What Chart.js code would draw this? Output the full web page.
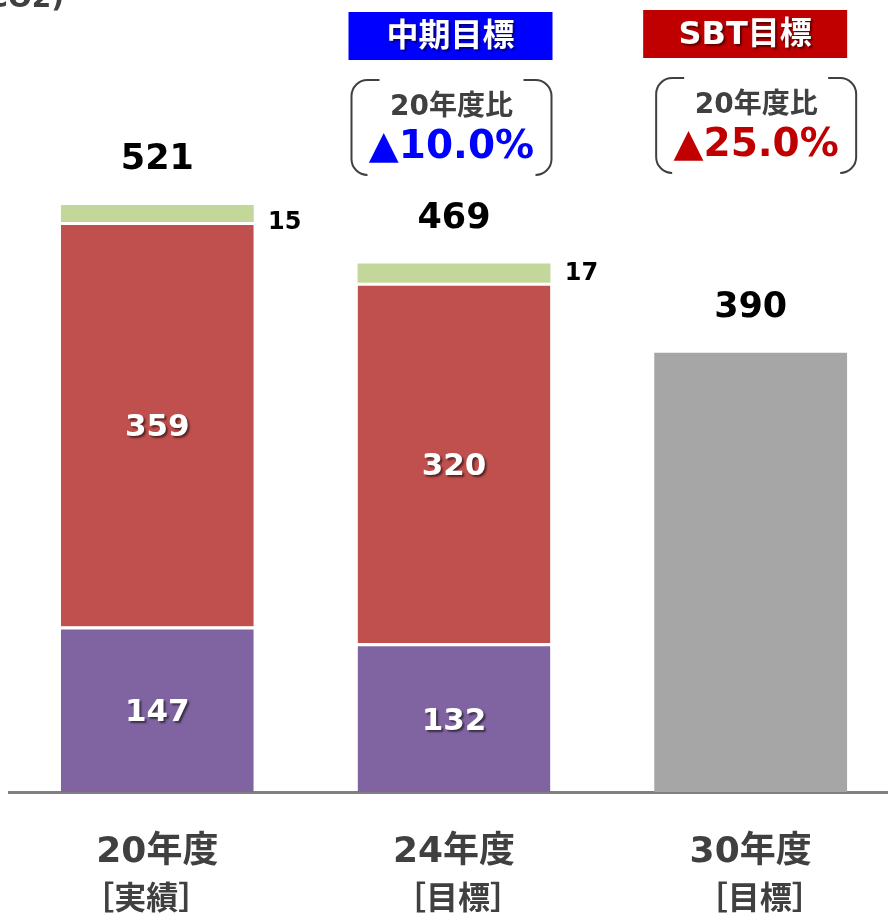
<!DOCTYPE html>
<html><head><meta charset="utf-8">
<script src="https://cdn.jsdelivr.net/npm/chart.js@4/dist/chart.umd.min.js"></script>
<style>html,body{margin:0;padding:0;overflow:hidden;background:#fff}canvas{display:block}</style>
</head><body>
<canvas id="c" width="900" height="913"></canvas>
<script>
const categories = ['20年度', '24年度', '30年度'];
const subLabels = ['［実績］', '［目標］', '［目標］'];
const purpleVals = [147, 132, null];
const redVals = [359, 320, null];
const greenVals = [15, 17, null];
const grayVals = [null, null, 390];
const targetTitles = [null, '中期目標', 'SBT目標'];
const targetColors = [null, '#0000FF', '#C00000'];
const targetRates = [null, '▲10.0%', '▲25.0%'];
const rateCaption = '20年度比';
const unitText = '(t-CO2)';

const JP = '"Noto Sans CJK JP", sans-serif';
const NUM = '"DejaVu Sans", "Noto Sans CJK JP", sans-serif';

function bracket(ctx, l, t, r, b) {
  const rad = 16, stub = 12;
  ctx.save();
  ctx.strokeStyle = '#404040'; ctx.lineWidth = 2;
  ctx.beginPath();
  ctx.moveTo(l + stub + rad, t);
  ctx.arcTo(l, t, l, t + rad, rad);
  ctx.lineTo(l, b - rad);
  ctx.arcTo(l, b, l + rad + stub, b, rad);
  ctx.stroke();
  ctx.beginPath();
  ctx.moveTo(r - stub - rad, t);
  ctx.arcTo(r, t, r, t + rad, rad);
  ctx.lineTo(r, b - rad);
  ctx.arcTo(r, b, r - rad - stub, b, rad);
  ctx.stroke();
  ctx.restore();
}

const deco = {
  id: 'deco',
  afterDraw(chart) {
    const ctx = chart.ctx;
    const xs = chart.scales.x;
    ctx.save();
    ctx.fillStyle = '#404040';
    ctx.font = 'bold 28px ' + NUM;
    ctx.textAlign = 'right'; ctx.textBaseline = 'alphabetic';
    ctx.fillText(unitText, 64, 7);
    ctx.textAlign = 'center'; ctx.textBaseline = 'middle';

    // inner segment labels
    [0, 1].forEach(di => {
      const meta = chart.getDatasetMeta(di);
      meta.data.forEach((el, i) => {
        const v = chart.data.datasets[di].data[i];
        if (v == null) return;
        ctx.save();
        ctx.font = 'bold 31px ' + NUM;
        ctx.fillStyle = '#fff';
        ctx.shadowColor = 'rgba(0,0,0,0.55)';
        ctx.shadowOffsetX = 2; ctx.shadowOffsetY = 2; ctx.shadowBlur = 2;
        ctx.fillText(String(v), el.x, (el.y + el.base) / 2 + 4);
        ctx.restore();
      });
    });
    // green side labels
    const sideDy = [9, 1];
    const gm = chart.getDatasetMeta(2);
    gm.data.forEach((el, i) => {
      const v = greenVals[i];
      if (v == null) return;
      ctx.font = 'bold 24px ' + NUM;
      ctx.fillStyle = '#000';
      ctx.fillText(String(v), el.x + el.width / 2 + 31, (el.y + el.base) / 2 + sideDy[i]);
    });
    // totals
    categories.forEach((c, i) => {
      const total = (purpleVals[i] || 0) + (redVals[i] || 0) + (greenVals[i] || 0) + (grayVals[i] || 0);
      const y = chart.scales.y.getPixelForValue(total);
      ctx.font = 'bold 35px ' + NUM;
      ctx.fillStyle = '#000';
      ctx.fillText(String(total), xs.getPixelForValue(i), y - 45);
    });
    // x labels
    const subDx = [-11, 4, 9];
    categories.forEach((c, i) => {
      const x = xs.getPixelForValue(i);
      ctx.fillStyle = '#404040';
      ctx.font = 'bold 36px ' + NUM;
      ctx.fillText(c, x, 853);
      ctx.font = 'bold 32px ' + JP;
      ctx.fillText(subLabels[i], x + subDx[i], 897);
    });
    // target boxes
    targetTitles.forEach((t, i) => {
      if (!t) return;
      const x = xs.getPixelForValue(i) - (i === 1 ? 3.5 : 5.5);
      const top = i === 1 ? 12 : 10;
      ctx.fillStyle = targetColors[i];
      ctx.fillRect(x - 102, top, 204, 48);
      ctx.save();
      ctx.font = 'bold 32px ' + NUM;
      ctx.fillStyle = '#fff';
      ctx.shadowColor = 'rgba(0,0,0,0.5)';
      ctx.shadowOffsetX = 2; ctx.shadowOffsetY = 2; ctx.shadowBlur = 2;
      ctx.fillText(t, x, top + 26);
      ctx.restore();
      const bx = i === 1 ? xs.getPixelForValue(i) - 2.5 : xs.getPixelForValue(i) + 5.5;
      const bt = i === 1 ? 80 : 78;
      bracket(ctx, bx - 100, bt, bx + 100, bt + 95);
      ctx.fillStyle = '#404040';
      ctx.font = 'bold 28px ' + NUM;
      ctx.fillText(rateCaption, bx, bt + 28);
      ctx.fillStyle = targetColors[i];
      ctx.font = 'bold 39px ' + NUM;
      ctx.fillText(targetRates[i], bx, bt + 68);
    });
    ctx.restore();
  }
};

const common = { categoryPercentage: 1, barPercentage: 0.65, borderColor: '#fff', borderSkipped: false, stack: 's' };
new Chart(document.getElementById('c'), {
  type: 'bar',
  data: {
    labels: categories,
    datasets: [
      Object.assign({ data: purpleVals, backgroundColor: '#8064A2', borderWidth: { top: 3, left: 0, right: 0, bottom: 0 } }, common),
      Object.assign({ data: redVals, backgroundColor: '#C0504D', borderWidth: { top: 3, left: 0, right: 0, bottom: 0 } }, common),
      Object.assign({ data: greenVals, backgroundColor: '#C4D79B', borderWidth: 0 }, common),
      Object.assign({ data: grayVals, backgroundColor: '#A6A6A6', borderWidth: 0 }, common)
    ]
  },
  options: {
    responsive: false,
    animation: false,
    layout: { padding: { left: 9, right: 1, top: 0, bottom: 121 } },
    plugins: { legend: { display: false }, tooltip: { enabled: false } },
    scales: {
      x: {
        stacked: true,
        grid: { display: false, drawTicks: false },
        border: { display: true, color: '#808080', width: 3 },
        ticks: { display: false }
      },
      y: { stacked: true, display: false, min: 0, max: 703 }
    }
  },
  plugins: [deco]
});
</script>
</body></html>
